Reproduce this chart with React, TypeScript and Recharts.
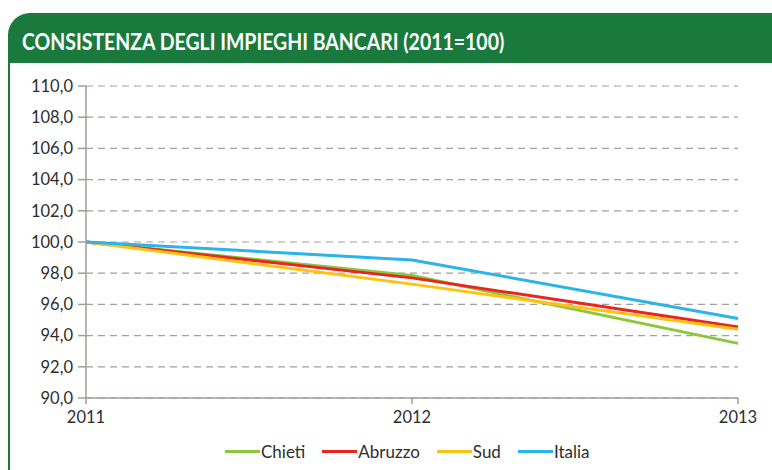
import React from 'react'
import { LineChart, Line, XAxis, YAxis, CartesianGrid } from 'recharts'

const years = ['2011', '2012', '2013']
const chieti = [100, 97.85, 93.5]
const abruzzo = [100, 97.7, 94.55]
const sud = [100, 97.3, 94.4]
const italia = [100, 98.85, 95.1]
const yTicks = [90, 92, 94, 96, 98, 100, 102, 104, 106, 108, 110]

const series = [
  { key: 'chieti', name: 'Chieti', color: '#8cc63e' },
  { key: 'abruzzo', name: 'Abruzzo', color: '#e8261f' },
  { key: 'sud', name: 'Sud', color: '#fdc212' },
  { key: 'italia', name: 'Italia', color: '#2bb4ea' },
]

const data = years.map((year, i) => ({
  year,
  chieti: chieti[i],
  abruzzo: abruzzo[i],
  sud: sud[i],
  italia: italia[i],
}))

const font = 'Lato, "DejaVu Sans", sans-serif'
const green = '#1a7a3e'
const labelColor = '#2e2e2e'

export default function App() {
  return (
    <div style={{ position: 'absolute', top: 0, left: 0, width: 772, height: 470, background: '#fff', overflow: 'hidden' }}>
      {/* header band */}
      <div
        style={{
          position: 'absolute',
          left: 8,
          top: 13,
          width: 780,
          height: 50,
          background: green,
          borderTopLeftRadius: 22,
        }}
      />
      <div
        style={{
          position: 'absolute',
          left: 22,
          top: 30,
          color: '#fff',
          fontFamily: font,
          fontWeight: 'bold',
          fontSize: 22,
          lineHeight: '24px',
          whiteSpace: 'nowrap',
          transform: 'scaleX(0.885)',
          transformOrigin: 'left center',
        }}
      >
        CONSISTENZA DEGLI IMPIEGHI BANCARI (2011=100)
      </div>
      {/* left border of the box */}
      <div style={{ position: 'absolute', left: 8, top: 60, width: 2, height: 410, background: green }} />

      <div style={{ position: 'absolute', left: 0, top: 0 }}>
        <LineChart width={772} height={470} data={data} margin={{ top: 86, right: 34, left: 10, bottom: 42 }}>
          <CartesianGrid vertical={false} stroke="#a69e9b" strokeDasharray="7 5" strokeWidth={1.2} />
          <XAxis
            dataKey="year"
            stroke="#a49d99"
            strokeWidth={1.5}
            tickSize={6}
            height={30}
            tick={{ fill: labelColor, fontSize: 16.5, fontFamily: font }}
            tickMargin={7}
          />
          <YAxis
            domain={[90, 110]}
            ticks={yTicks}
            interval={0}
            width={76}
            stroke="#a49d99"
            strokeWidth={1.5}
            tickSize={8}
            tickMargin={5}
            tickFormatter={(v: number) => v.toFixed(1).replace('.', ',')}
            tick={{ fill: labelColor, fontSize: 16.5, fontFamily: font }}
          />
          {series.map((s) => (
            <Line
              key={s.key}
              type="linear"
              dataKey={s.key}
              name={s.name}
              stroke={s.color}
              strokeWidth={3}
              strokeLinejoin="round"
              dot={false}
              isAnimationActive={false}
            />
          ))}
        </LineChart>
      </div>

      {/* legend */}
      <div
        style={{
          position: 'absolute',
          top: 441,
          left: 225,
          display: 'flex',
          fontFamily: font,
          fontSize: 17,
          color: labelColor,
        }}
      >
        {series.map((s) => (
          <div key={s.key} style={{ display: 'flex', alignItems: 'center', marginRight: 17 }}>
            <div style={{ width: 35, height: 3, background: s.color }} />
            <span style={{ marginLeft: 1 }}>{s.name}</span>
          </div>
        ))}
      </div>
    </div>
  )
}
